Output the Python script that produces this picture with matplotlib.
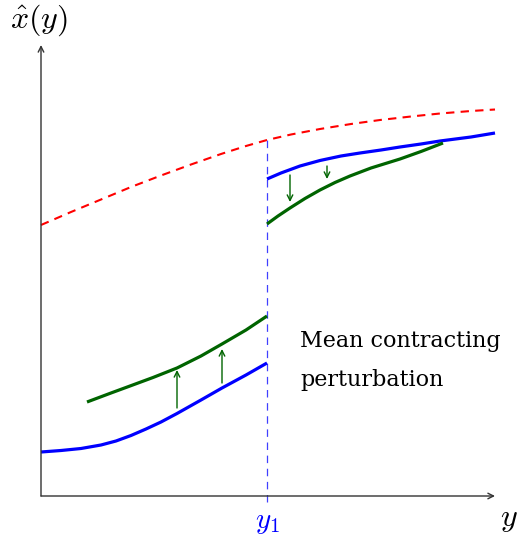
import matplotlib.pyplot as plt

plt.rcParams['mathtext.fontset'] = 'cm'

# schematic curves (x along y-axis variable, y = x_hat value), origin at the axes corner
red_x = [0, 30, 60, 90, 120, 150, 180, 205, 226, 250, 279, 310, 339, 370, 399, 430, 454]
red_y = [271, 284, 296.5, 309, 320.5, 331.5, 342, 350, 356, 361.5, 367, 372, 376,
         379.5, 382.5, 385, 386.5]

blue_left_x = [0, 20, 40, 60, 75, 90, 105, 120, 136, 160, 181, 205, 226]
blue_left_y = [44, 45.5, 47.5, 51, 55, 60.5, 67, 74, 82.5, 96, 108, 121, 133]
green_left_x = [46, 70, 89, 112, 136, 160, 181, 205, 226]
green_left_y = [94, 103, 110, 118.5, 128, 140, 152, 166, 180]

blue_right_x = [226, 240, 259, 279, 300, 319, 340, 359, 380, 399, 430, 454]
blue_right_y = [317, 323, 330, 335.5, 340, 343, 346, 349, 352, 355, 359, 363]
green_right_x = [226, 237, 249, 264, 279, 294, 309, 330, 359, 380, 402]
green_right_y = [272, 280, 288, 297.5, 306, 313.5, 320, 328, 337, 344.5, 353]

# perturbation arrows: x, start, end
arrow_x = [136, 181, 249, 286]
arrow_from = [88, 113, 321, 330]
arrow_to = [126, 147, 294, 317]

y1 = 226
x_end, y_end = 454, 451

fig = plt.figure(figsize=(5.19, 5.4), dpi=100)
ax = fig.add_axes([0, 0, 1, 1])
ax.set_xlim(-41, 478)
ax.set_ylim(-44, 496)
ax.axis('off')

# axes with arrows
ax.annotate('', xy=(x_end, 0), xytext=(0, 0),
            arrowprops=dict(arrowstyle='->', color='#333333', lw=1.0, shrinkA=0, shrinkB=0))
ax.annotate('', xy=(0, y_end), xytext=(0, 0),
            arrowprops=dict(arrowstyle='->', color='#333333', lw=1.0, shrinkA=0, shrinkB=0))

ax.plot(red_x, red_y, color='red', lw=1.5, dashes=(4, 3))
ax.plot([y1, y1], [-6, 357], color='#4040ff', lw=0.9, dashes=(6, 4.5))

ax.plot(blue_left_x, blue_left_y, color='blue', lw=2.3, solid_capstyle='butt')
ax.plot(green_left_x, green_left_y, color='#006400', lw=2.3, solid_capstyle='butt')
ax.plot(blue_right_x, blue_right_y, color='blue', lw=2.3, solid_capstyle='butt')
ax.plot(green_right_x, green_right_y, color='#006400', lw=2.3, solid_capstyle='butt')

for xa, ya, yb in zip(arrow_x, arrow_from, arrow_to):
    ax.annotate('', xy=(xa, yb), xytext=(xa, ya),
                arrowprops=dict(arrowstyle='->', color='#006400', lw=1.0,
                                shrinkA=0, shrinkB=0))

ax.text(-2, 476, r'$\hat{x}(y)$', fontsize=23, ha='center', va='center')
ax.text(y1, -26, r'$y_1$', fontsize=21, color='blue', ha='center', va='center')
ax.text(459, -22, r'$y$', fontsize=23, ha='left', va='center')

ax.text(259, 149, 'Mean contracting', fontsize=16, family='DejaVu Serif',
        ha='left', va='baseline')
ax.text(259, 110, 'perturbation', fontsize=16, family='DejaVu Serif',
        ha='left', va='baseline')

fig.savefig('out.png', dpi=100)
